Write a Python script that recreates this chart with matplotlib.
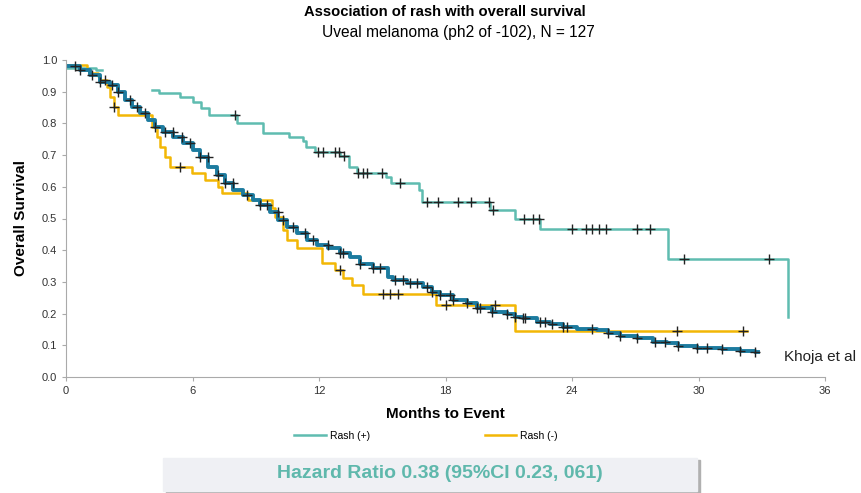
import numpy as np
import matplotlib.pyplot as plt
from matplotlib.patches import Rectangle
from matplotlib.lines import Line2D

plt.rcParams['font.family'] = ['Liberation Sans', 'DejaVu Sans']

# Kaplan-Meier steps (months, survival after the step)
all_t = [0, 0.66, 1.14, 1.61, 2.09, 2.47, 2.80, 3.12, 3.51, 3.90, 4.22, 4.62, 5.09, 5.56,
         6.04, 6.36, 6.75, 7.15, 7.54, 7.94, 8.41, 8.89, 9.20, 9.68, 10.07, 10.47, 10.94,
         11.42, 11.89, 12.44, 13.0, 13.47, 13.95, 14.56, 15.28, 15.51, 16.16, 16.94, 17.35,
         17.74, 18.36, 19.01, 19.48, 20.19, 20.91, 21.30, 21.68, 22.33, 22.96, 23.58, 24.23,
         25.18, 25.73, 26.28, 27.07, 27.86, 28.50, 29.05, 29.92, 30.55, 31.11, 31.97, 32.69, 32.8]
all_s = [0.98, 0.968, 0.953, 0.932, 0.92, 0.90, 0.873, 0.853, 0.832, 0.81, 0.79, 0.774, 0.758,
         0.737, 0.716, 0.695, 0.663, 0.637, 0.611, 0.59, 0.574, 0.558, 0.543, 0.521, 0.495,
         0.474, 0.453, 0.432, 0.416, 0.406, 0.39, 0.38, 0.358, 0.343, 0.316, 0.306, 0.295,
         0.285, 0.269, 0.259, 0.243, 0.232, 0.217, 0.206, 0.20, 0.19, 0.185, 0.174, 0.166,
         0.159, 0.15, 0.148, 0.138, 0.129, 0.122, 0.111, 0.106, 0.099, 0.092, 0.09, 0.088,
         0.083, 0.078, 0.078]
all_cens = [0.43, 0.66, 1.22, 1.61, 2.17, 2.47, 3.04, 3.35, 3.75, 4.22, 4.70, 5.08, 5.49, 5.88,
            6.36, 6.74, 7.21, 7.54, 7.92, 8.57, 9.20, 9.52, 10.06, 10.29, 10.77, 11.34, 11.72,
            12.43, 13.0, 13.14, 13.95, 14.56, 14.90, 15.61, 15.99, 16.32, 16.64, 17.11, 17.35,
            17.74, 18.22, 18.36, 19.01, 19.48, 19.64, 20.19, 20.91, 21.30, 21.69, 21.77, 22.49,
            22.72, 23.04, 23.59, 23.75, 24.94, 25.73, 26.28, 27.07, 27.94, 28.42, 29.05, 29.92,
            30.39, 31.11, 31.97, 32.69]

pos_early_t = [0, 1.4, 1.7]
pos_early_s = [0.975, 0.97, 0.97]
pos_t = [4.06, 4.4, 5.4, 6.0, 6.4, 6.8, 8.1, 9.35, 10.6, 11.25, 11.4, 11.8, 13.0, 13.4, 13.8,
         15.2, 15.4, 16.75, 16.9, 20.1, 21.3, 22.5, 28.55, 34.25]
pos_s = [0.905, 0.895, 0.884, 0.868, 0.848, 0.826, 0.80, 0.77, 0.758, 0.745, 0.726, 0.71,
         0.697, 0.663, 0.643, 0.632, 0.612, 0.59, 0.552, 0.527, 0.50, 0.467, 0.371, 0.19]
pos_cens = [8.0, 11.95, 12.2, 12.76, 12.95, 13.2, 13.85, 14.1, 14.3, 15.0, 15.85, 17.1, 17.65,
            18.6, 19.2, 20.08, 20.25, 21.7, 22.17, 22.45, 24.0, 24.65, 24.97, 25.28, 25.6,
            27.07, 27.7, 29.3, 33.35]

neg_t = [0, 1.0, 1.1, 1.5, 1.6, 1.95, 2.1, 2.3, 2.45, 4.07, 4.3, 4.46, 4.7, 4.93, 5.96, 6.6,
         7.2, 7.4, 8.65, 9.76, 9.9, 10.3, 10.5, 10.95, 12.13, 12.76, 13.15, 13.55, 14.1, 17.55,
         21.3, 32.3]
neg_s = [0.984, 0.97, 0.958, 0.95, 0.937, 0.915, 0.883, 0.852, 0.826, 0.79, 0.758, 0.726,
         0.695, 0.663, 0.642, 0.62, 0.60, 0.579, 0.558, 0.532, 0.506, 0.464, 0.432, 0.406,
         0.359, 0.338, 0.311, 0.29, 0.262, 0.227, 0.145, 0.145]
neg_cens = [1.85, 2.3, 5.4, 13.0, 15.05, 15.37, 15.76, 18.0, 20.35, 29.0, 32.1]

teal = '#5fbcb0'
blue = '#1c7b9f'
yellow = '#f2b705'


def surv_at(times, surv, t):
    idx = np.searchsorted(times, t, side='right') - 1
    return np.asarray(surv)[np.clip(idx, 0, len(surv) - 1)]


fig = plt.figure(figsize=(8.61, 4.93), dpi=100)
ax = fig.add_axes([66 / 861, 1 - 377 / 493, (825 - 66) / 861, (377 - 60) / 493])

ax.step(pos_early_t, pos_early_s, where='post', color=teal, lw=1.8)
ax.step(pos_t, pos_s, where='post', color=teal, lw=1.8)
ax.step(neg_t, neg_s, where='post', color=yellow, lw=1.8)
ax.step(all_t, all_s, where='post', color=blue, lw=2.8)

ck = dict(marker='+', ls='none', color='#222222', ms=6.5, mew=1.0, zorder=5)
ax.plot(pos_cens, surv_at(pos_t, pos_s, pos_cens), **ck)
ax.plot(neg_cens, surv_at(neg_t, neg_s, neg_cens), **ck)
ax.plot(all_cens, surv_at(all_t, all_s, all_cens), **ck)

ax.set_xlim(0, 36)
ax.set_ylim(0, 1.0)
ax.set_xticks(np.arange(0, 37, 6))
ax.set_yticks(np.round(np.arange(0, 1.01, 0.1), 1))
ax.yaxis.set_major_formatter(plt.FormatStrFormatter('%.1f'))
ax.tick_params(labelsize=8, length=3, color='#aaaaaa', labelcolor='#333333')
for sp in ['top', 'right']:
    ax.spines[sp].set_visible(False)
for sp in ['left', 'bottom']:
    ax.spines[sp].set_color('#aaaaaa')
ax.set_xlabel('Months to Event', fontsize=11, fontweight='bold', labelpad=8)
ax.set_ylabel('Overall Survival', fontsize=11, fontweight='bold', labelpad=10)

fig.text(445 / 861, 1 - 12 / 493, 'Association of rash with overall survival',
         ha='center', va='center', fontsize=10.6, fontweight='bold')
fig.text(458 / 861, 1 - 32 / 493, 'Uveal melanoma (ph2 of -102), N = 127',
         ha='center', va='center', fontsize=11.2)
fig.text(784 / 861, 1 - 357 / 493, 'Khoja et al', ha='left', va='center', fontsize=11,
         color='#222222')

handles = [Line2D([], [], color=teal, lw=1.8), Line2D([], [], color=yellow, lw=1.8)]
fig.legend(handles, ['Rash (+)', 'Rash (-)'], ncol=2, loc='center',
           bbox_to_anchor=(426 / 861, 1 - 436 / 493), frameon=False, fontsize=7.5,
           handlelength=3, columnspacing=11, handletextpad=0.4)

# hazard ratio box with shadow
fig.patches.append(Rectangle((166 / 861, 1 - 494 / 493), 534 / 861, 34 / 493,
                             transform=fig.transFigure, color='#b0b0b0', zorder=0))
fig.patches.append(Rectangle((163 / 861, 1 - 491 / 493), 534 / 861, 33 / 493,
                             transform=fig.transFigure, color='#eff0f4', zorder=1))
fig.text(440 / 861, 1 - 474 / 493, 'Hazard Ratio 0.38 (95%CI 0.23, 061)', ha='center',
         va='center', fontsize=14, fontweight='bold', color='#5fb8ac')

fig.savefig('out.png', dpi=100)
